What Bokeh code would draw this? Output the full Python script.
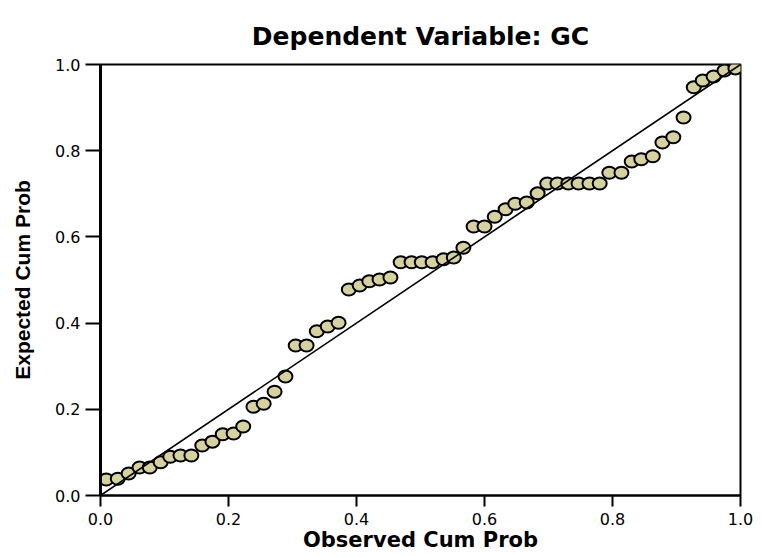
from bokeh.plotting import figure
from bokeh.models import FixedTicker, Range1d, Title, ColumnDataSource
from bokeh.embed import file_html
from bokeh.resources import INLINE

title_text = "Dependent Variable: GC"
x_label = "Observed Cum Prob"
y_label = "Expected Cum Prob"
tick_values = [0.0, 0.2, 0.4, 0.6, 0.8, 1.0]
tick_labels = ["0.0", "0.2", "0.4", "0.6", "0.8", "1.0"]

observed = [0.009, 0.027, 0.044, 0.061, 0.077, 0.094, 0.109, 0.125, 0.142, 0.159,
            0.175, 0.191, 0.208, 0.223, 0.239, 0.255, 0.272, 0.289, 0.305, 0.322,
            0.338, 0.355, 0.372, 0.388, 0.405, 0.420, 0.436, 0.453, 0.469, 0.486,
            0.502, 0.519, 0.536, 0.552, 0.567, 0.583, 0.600, 0.616, 0.633, 0.648,
            0.666, 0.683, 0.698, 0.714, 0.731, 0.747, 0.764, 0.780, 0.795, 0.814,
            0.830, 0.845, 0.863, 0.878, 0.895, 0.911, 0.927, 0.941, 0.958, 0.975,
            0.992]
expected = [0.037, 0.039, 0.051, 0.065, 0.065, 0.077, 0.090, 0.093, 0.093, 0.116,
            0.125, 0.142, 0.144, 0.160, 0.206, 0.213, 0.241, 0.276, 0.348, 0.348,
            0.381, 0.392, 0.401, 0.478, 0.487, 0.497, 0.501, 0.506, 0.541, 0.541,
            0.541, 0.541, 0.548, 0.552, 0.575, 0.624, 0.624, 0.647, 0.664, 0.677,
            0.680, 0.701, 0.724, 0.724, 0.724, 0.724, 0.724, 0.724, 0.749, 0.749,
            0.775, 0.780, 0.787, 0.819, 0.831, 0.877, 0.947, 0.963, 0.972, 0.986,
            0.991]
ref_line = [0.0, 1.0]

p = figure(width=760, height=556, output_backend="svg", toolbar_location=None,
           x_range=Range1d(0, 1), y_range=Range1d(0, 1),
           min_border_left=100, min_border_right=20, min_border_top=64,
           min_border_bottom=61, background_fill_color="white",
           border_fill_color="white")

p.title = Title(text=title_text, align="center", text_font="DejaVu Sans",
                text_font_size="25px", text_font_style="bold", text_color="black",
                offset=0, standoff=28)

p.grid.visible = False
p.outline_line_color = "black"
p.outline_line_width = 2

for ax in (p.xaxis[0], p.yaxis[0]):
    ax.ticker = FixedTicker(ticks=tick_values)
    ax.major_label_overrides = {v: s for v, s in zip(tick_values, tick_labels)}
    ax.major_label_text_font = "DejaVu Sans"
    ax.major_label_text_font_size = "16px"
    ax.major_label_text_color = "black"
    ax.major_tick_in = 0
    ax.minor_tick_line_color = None
    ax.major_tick_line_color = "black"
    ax.major_tick_line_width = 2
    ax.axis_line_color = "black"
    ax.axis_label_text_color = "black"
    ax.axis_label_text_font_style = "bold"

p.xaxis.axis_label = x_label
p.xaxis.axis_label_text_font = "DejaVu Sans"
p.xaxis.axis_label_text_font_size = "21px"
p.xaxis.major_tick_out = 11
p.xaxis.axis_line_width = 2
p.xaxis.major_label_standoff = 6
p.xaxis.axis_label_standoff = 0

p.yaxis.axis_label = y_label
p.yaxis.axis_label_text_font = "Liberation Sans"
p.yaxis.axis_label_text_font_size = "21px"
p.yaxis.major_tick_out = 15
p.yaxis.axis_line_width = 3
p.yaxis.major_label_standoff = 5
p.yaxis.axis_label_standoff = 18

src = ColumnDataSource(data=dict(x=observed, y=expected))
p.ellipse(x="x", y="y", width=14, height=12, width_units="screen",
          height_units="screen", source=src, fill_color="#d6d1a0",
          line_color="black", line_width=2)
p.line(ref_line, ref_line, line_color="black", line_width=1.6)

open("out.html", "w").write(file_html(p, INLINE))
